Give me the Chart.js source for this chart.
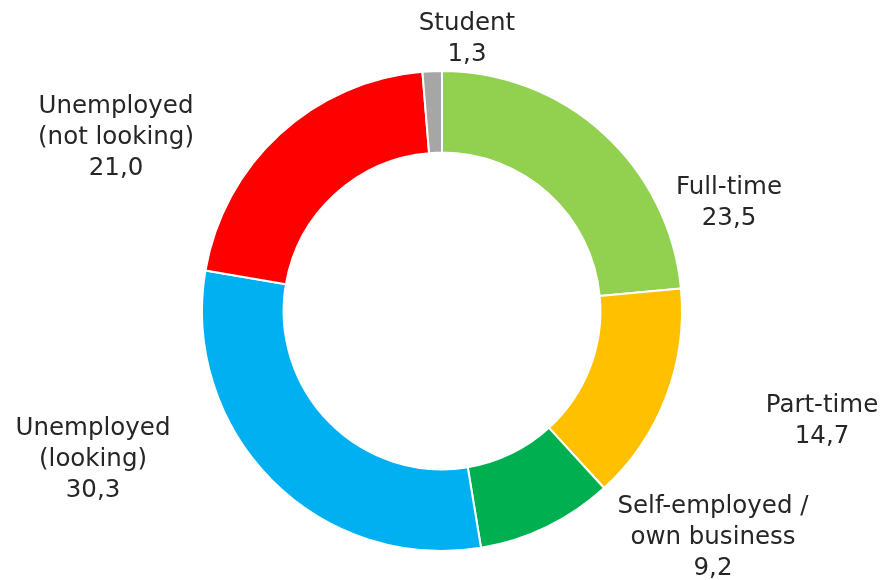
<!DOCTYPE html>
<html>
<head>
<meta charset="utf-8">
<script src="https://cdn.jsdelivr.net/npm/chart.js@4"></script>
<style>
  html, body { margin: 0; padding: 0; background: #fff; }
  #wrap { width: 884px; height: 580px; }
</style>
</head>
<body>
<div id="wrap"><canvas id="situacion"></canvas></div>
<script>
const categorias = [
    ["Full-time"],
    ["Part-time"],
    ["Self-employed /", "own business"],
    ["Unemployed", "(looking)"],
    ["Unemployed", "(not looking)"],
    ["Student"],
];
const valores = [23.5, 14.7, 9.2, 30.3, 21.0, 1.3];
const colores = ["#92D050", "#FFC000", "#00B050", "#00B0F0", "#FF0000", "#A6A6A6"];

// desplazamiento del centro de cada etiqueta respecto al centro del anillo
const desplazamientoEtiquetas = [
    [287, -108],
    [380, 110],
    [271, 227],
    [-349, 149],
    [-326, -173],
    [25, -272],
];

const fuente = "'DejaVu Sans', Verdana, sans-serif";
const formatoNumero = new Intl.NumberFormat("es-ES", {
    minimumFractionDigits: 1,
    maximumFractionDigits: 1,
});

const etiquetasExternas = {
    id: "etiquetasExternas",
    afterDatasetsDraw(chart) {
        const ctx = chart.ctx;
        const arco = chart.getDatasetMeta(0).data[0];
        const cx = arco.x;
        const cy = arco.y;
        const alto = 31;
        ctx.save();
        ctx.font = "24.5px " + fuente;
        ctx.fillStyle = "#262626";
        ctx.textAlign = "center";
        ctx.textBaseline = "middle";
        categorias.forEach((lineas, i) => {
            const todas = lineas.concat([formatoNumero.format(valores[i])]);
            const [dx, dy] = desplazamientoEtiquetas[i];
            const y0 = cy + dy - ((todas.length - 1) * alto) / 2;
            todas.forEach((texto, j) => {
                ctx.fillText(texto, cx + dx, y0 + j * alto);
            });
        });
        ctx.restore();
    },
};

new Chart(document.getElementById("situacion"), {
    type: "doughnut",
    data: {
        labels: categorias.map((l) => l.join(" ")),
        datasets: [
            {
                data: valores,
                backgroundColor: colores,
                borderColor: "#fff",
                borderWidth: 2,
            },
        ],
    },
    options: {
        responsive: true,
        maintainAspectRatio: false,
        animation: false,
        cutout: "66%",
        layout: { padding: { top: 70, bottom: 28 } },
        plugins: {
            legend: { display: false },
            tooltip: { enabled: false },
        },
    },
    plugins: [etiquetasExternas],
});
</script>
</body>
</html>
